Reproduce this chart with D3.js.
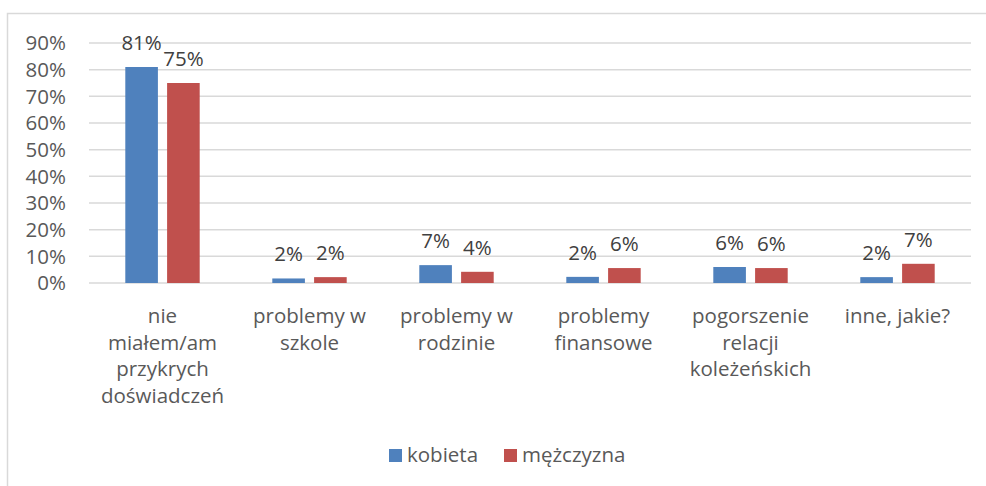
<!DOCTYPE html>
<html>
<head>
<meta charset="utf-8">
<script src="https://cdn.jsdelivr.net/npm/d3@7"></script>
<style>
  body { margin: 0; background: #fff; }
  svg text { font-family: "Open Sans", "Liberation Sans", sans-serif; }
</style>
</head>
<body>
<div id="chart"></div>
<script>
// data
const categories = [
  ["nie", "miałem/am", "przykrych", "doświadczeń"],
  ["problemy w", "szkole"],
  ["problemy w", "rodzinie"],
  ["problemy", "finansowe"],
  ["pogorszenie", "relacji", "koleżeńskich"],
  ["inne, jakie?"]
];
const seriesNames = ["kobieta", "mężczyzna"];
const kobieta = [81.0, 1.7, 6.7, 2.3, 6.0, 2.2];
const mezczyzna = [75.0, 2.2, 4.2, 5.6, 5.6, 7.2];
const yTicks = [0, 10, 20, 30, 40, 50, 60, 70, 80, 90];

const colours = ["#4F81BD", "#C0504D"];
const fontSize = "20.5px";

const width = 986;
const height = 486;
const plot = {left: 89, right: 971, top: 43, bottom: 283};

const svg = d3.select("#chart").append("svg")
  .attr("width", width)
  .attr("height", height);

// chart border
svg.append("rect")
  .attr("x", 7.5).attr("y", 13.5)
  .attr("width", 1000).attr("height", 500)
  .attr("fill", "none")
  .attr("stroke", "#d9d9d9")
  .attr("stroke-width", 1.5);

// scales
const x0 = d3.scaleBand()
  .domain(d3.range(categories.length))
  .range([plot.left, plot.right]);

const x1 = d3.scaleBand()
  .domain(seriesNames)
  .range([36.3, x0.bandwidth() - 36.3])
  .paddingInner(0.22);

const y = d3.scaleLinear()
  .domain([0, 90])
  .range([plot.bottom, plot.top]);

// gridlines
svg.append("g")
  .selectAll("line")
  .data(yTicks)
  .enter().append("line")
    .attr("x1", plot.left)
    .attr("x2", plot.right)
    .attr("y1", d => y(d))
    .attr("y2", d => y(d))
    .attr("stroke", "#d9d9d9")
    .attr("stroke-width", 1.5);

// y axis labels
const yAxis = d3.axisLeft(y)
  .tickValues(yTicks)
  .tickFormat(d => d + "%")
  .tickSize(0)
  .tickPadding(0);

const yG = svg.append("g")
  .attr("transform", "translate(66,0)")
  .call(yAxis);
yG.select(".domain").remove();
yG.selectAll("text")
  .attr("fill", "#595959")
  .attr("dy", "0.34em")
  .style("font-size", fontSize)
  .style("font-family", "'Open Sans', 'Liberation Sans', sans-serif");

// bars
const groups = svg.append("g")
  .selectAll("g")
  .data(categories.map((c, i) => ({i, vals: [kobieta[i], mezczyzna[i]]})))
  .enter().append("g")
    .attr("transform", d => `translate(${x0(d.i)},0)`);

groups.selectAll("rect")
  .data(d => d.vals.map((v, j) => ({key: seriesNames[j], v, j})))
  .enter().append("rect")
    .attr("x", d => x1(d.key))
    .attr("width", x1.bandwidth())
    .attr("y", d => y(d.v))
    .attr("height", d => y(0) - y(d.v))
    .attr("fill", d => colours[d.j]);

// data labels
groups.selectAll("text")
  .data(d => d.vals.map((v, j) => ({key: seriesNames[j], v, j})))
  .enter().append("text")
    .attr("x", d => x1(d.key) + x1.bandwidth() / 2)
    .attr("y", d => y(d.v) - 17)
    .attr("text-anchor", "middle")
    .attr("fill", "#404040")
    .style("font-size", fontSize)
    .text(d => Math.round(d.v) + "%");

// category labels
const catG = svg.append("g")
  .selectAll("text")
  .data(categories)
  .enter().append("text")
    .attr("x", (d, i) => x0(i) + x0.bandwidth() / 2)
    .attr("y", 323)
    .attr("text-anchor", "middle")
    .attr("fill", "#595959")
    .style("font-size", fontSize);

catG.selectAll("tspan")
  .data(d => d)
  .enter().append("tspan")
    .attr("x", function() { return this.parentNode.getAttribute("x"); })
    .attr("dy", (d, i) => i === 0 ? 0 : 26.5)
    .text(d => d);

// legend
const legendX = [389, 504];
const legend = svg.append("g")
  .selectAll("g")
  .data(seriesNames)
  .enter().append("g")
    .attr("transform", (d, i) => `translate(${legendX[i]},449)`);

legend.append("rect")
  .attr("width", 13)
  .attr("height", 13)
  .attr("fill", (d, i) => colours[i]);

legend.append("text")
  .attr("x", 18)
  .attr("y", 13)
  .attr("fill", "#595959")
  .style("font-size", fontSize)
  .text(d => d);
</script>
</body>
</html>
